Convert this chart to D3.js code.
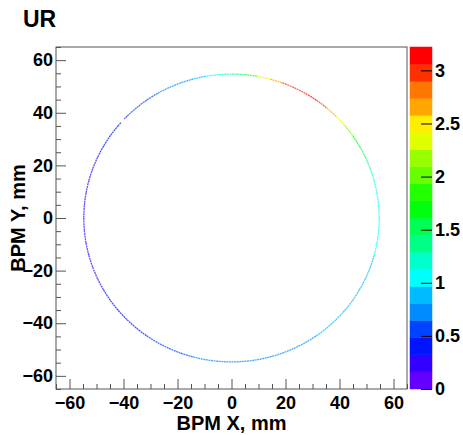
<!DOCTYPE html>
<html>
<head>
<meta charset="utf-8">
<script src="https://cdn.jsdelivr.net/npm/d3@7"></script>
<style>
  body { margin: 0; background: #fff; }
  text { font-family: "Liberation Sans", Arial, sans-serif; font-weight: bold; }
</style>
</head>
<body>
<svg id="chart" width="463" height="435"></svg>
<script>
// ring of hits: segment start angle (deg, ccw from +X) and value (z)
// a null value is an empty stretch of the ring
var ringRadius = 54.7
var segStarts = [0, 5, 10, 15, 20, 25, 30, 35, 40, 45,
  50, 55, 60, 65, 70, 75, 80, 85, 90, 95,
  100, 105, 110, 115, 120, 125, 130, 135, 136.5, 138.5,
  140, 145, 150, 155, 160, 165, 170, 175, 180, 185,
  190, 195, 200, 205, 210, 215, 220, 225, 230, 235,
  240, 245, 250, 255, 260, 265, 270, 275, 280, 285,
  290, 295, 300, 305, 310, 315, 320, 325, 330, 335,
  340, 345, 350, 355]
var segValues = [1.0, 1.05, 1.1, 1.15, 1.3, 1.5, 1.75, 2.0, 2.4, 2.7,
  3.0, 3.1, 3.05, 2.9, 2.6, 2.3, 1.9, 1.4, 1.15, 1.0,
  0.9, 0.8, 0.7, 0.65, 0.6, 0.55, 0.5, 0.45, null, 0.42,
  0.4, 0.38, 0.35, 0.3, 0.28, 0.25, 0.22, 0.2, 0.2, 0.2,
  0.22, 0.25, 0.28, 0.3, 0.33, 0.35, 0.38, 0.42, 0.45, 0.5,
  0.55, 0.6, 0.62, 0.65, 0.68, 0.7, 0.7, 0.72, 0.74, 0.75,
  0.78, 0.8, 0.8, 0.82, 0.85, 0.85, 0.88, 0.9, 0.92, 0.95,
  0.95, 0.98, 1.0, 1.0]

var xDomain = [-65, 65]
var yDomain = [-65, 65]
var zMax = 3.22
var nBands = 20
var axisTicks = [-60, -40, -20, 0, 20, 40, 60]
var paletteTicks = [0, 0.5, 1, 1.5, 2, 2.5, 3]

var svg = d3.select('#chart')
var frame = {left: 56, right: 407, top: 47, bottom: 389}

var x = d3.scaleLinear().domain(xDomain).range([frame.left, frame.right])
var y = d3.scaleLinear().domain(yDomain).range([frame.bottom, frame.top])
var z = d3.scaleLinear().domain([0, zMax]).range([frame.bottom, frame.top])

// ROOT "pretty" palette: 50 hues violet->red, 20 contour bands
function bandColor(j){
  var idx = Math.floor((j + 0.99) * 50 / nBands)
  var hue = 280 - (idx + 1) * 5.6
  return d3.hsl(hue, 1, 0.5).formatHex()
}
function valueColor(v){
  var j = Math.min(nBands - 1, Math.max(0, Math.floor(v / zMax * nBands)))
  return bandColor(j)
}

// ring segments
var segs = segStarts.map(function(a, i){
    return {a0: a, a1: i + 1 < segStarts.length ? segStarts[i + 1] : 360, v: segValues[i]}
  })
  .filter(function(d){ return d.v != null })

var line = d3.line()
  .x(function(t){ return x(ringRadius * Math.cos(t * Math.PI / 180)) })
  .y(function(t){ return y(ringRadius * Math.sin(t * Math.PI / 180)) })

svg.append('g').selectAll('path')
  .data(segs)
  .enter().append('path')
  .attr('d', function(d){ return line(d3.range(d.a0, d.a1, 0.5).concat([d.a1])) })
  .attr('fill', 'none')
  .attr('stroke', function(d){ return valueColor(d.v) })
  .attr('stroke-width', 1.3)
  .attr('stroke-opacity', 0.72)
  .attr('stroke-dasharray', '2 0.6')

// frame
svg.append('rect')
  .attr('x', frame.left).attr('y', frame.top)
  .attr('width', frame.right - frame.left).attr('height', frame.bottom - frame.top)
  .attr('fill', 'none').attr('stroke', '#555').attr('stroke-width', 1)

// x axis (ticks inside)
var minorTicks = d3.range(-65, 66, 5).filter(function(v){ return v % 20 != 0 })
var gx = svg.append('g').attr('transform', 'translate(0,' + frame.bottom + ')')
gx.call(d3.axisBottom(x).tickValues(axisTicks).tickSize(-10).tickPadding(7).tickFormat(d3.format('d')))
var gxm = svg.append('g').attr('transform', 'translate(0,' + frame.bottom + ')')
gxm.call(d3.axisBottom(x).tickValues(minorTicks).tickSize(-5).tickFormat(''))

var gy = svg.append('g').attr('transform', 'translate(' + frame.left + ',0)')
gy.call(d3.axisLeft(y).tickValues(axisTicks).tickSize(-10).tickPadding(3).tickFormat(d3.format('d')))
var gym = svg.append('g').attr('transform', 'translate(' + frame.left + ',0)')
gym.call(d3.axisLeft(y).tickValues(minorTicks).tickSize(-5).tickFormat(''))

svg.selectAll('.domain').remove()
svg.selectAll('.tick line').attr('stroke', '#555')
svg.selectAll('.tick text')
  .style('font-size', '18px').attr('fill', '#000')

// palette
var palX = 410, palW = 22
var bands = d3.range(nBands)
svg.append('g').selectAll('rect')
  .data(bands)
  .enter().append('rect')
  .attr('x', palX)
  .attr('width', palW)
  .attr('y', function(j){ return z((j + 1) * zMax / nBands) })
  .attr('height', function(j){ return z(j * zMax / nBands) - z((j + 1) * zMax / nBands) })
  .attr('fill', function(j){ return bandColor(j) })
  .attr('stroke', function(j){ return bandColor(j) })
  .attr('stroke-width', 0.5)

var gz = svg.append('g').attr('transform', 'translate(' + (palX + palW) + ',0)')
gz.call(d3.axisRight(z).tickValues(paletteTicks).tickSize(-11).tickPadding(3).tickFormat(function(d){ return d }))
gz.select('.domain').remove()
gz.selectAll('.tick line').attr('stroke', '#000')
gz.selectAll('.tick text').style('font-size', '18px').attr('fill', '#000')

// titles
svg.append('text').attr('x', 23).attr('y', 27).style('font-size', '23px').text('UR')
svg.append('text')
  .attr('x', (frame.left + frame.right) / 2).attr('y', 430)
  .attr('text-anchor', 'middle').style('font-size', '20px')
  .text('BPM X, mm')
svg.append('text')
  .attr('transform', 'translate(25,' + ((frame.top + frame.bottom) / 2) + ') rotate(-90)')
  .attr('text-anchor', 'middle').style('font-size', '20px')
  .text('BPM Y, mm')
</script>
</body>
</html>
